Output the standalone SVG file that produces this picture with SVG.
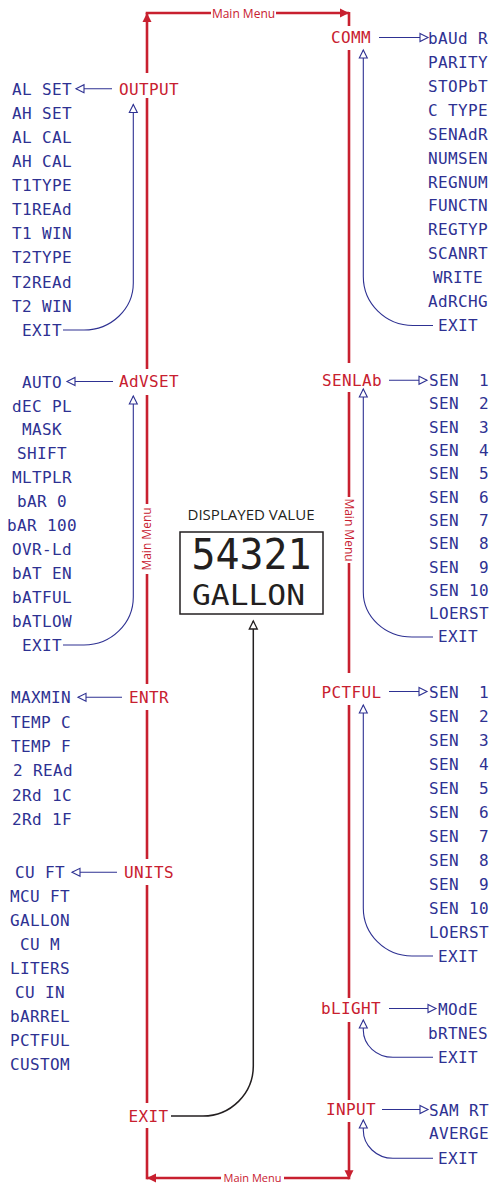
<svg xmlns="http://www.w3.org/2000/svg" width="492" height="1185" viewBox="0 0 492 1185">
<style>
.b{font-family:"DejaVu Sans Mono",monospace;font-size:16px;letter-spacing:0.4px;fill:#2e3192;text-anchor:middle}
.r{font-family:"DejaVu Sans Mono",monospace;font-size:16px;letter-spacing:0.4px;fill:#c8202f;text-anchor:middle}
.mm{font-family:"Open Sans","Liberation Sans",sans-serif;font-size:12px;fill:#c8202f;text-anchor:middle}
.red{stroke:#c8202f;stroke-width:2.6;fill:none}
.blue{stroke:#2e3192;stroke-width:1.1;fill:none}
.blk{stroke:#231f20;stroke-width:1.5;fill:none}
</style>
<defs>
<marker id="ra" markerUnits="userSpaceOnUse" markerWidth="10" markerHeight="9" refX="9" refY="4.5" orient="auto" overflow="visible"><path d="M0,0 L9,4.5 L0,9 z" fill="#c8202f"/></marker>
<marker id="ba" markerUnits="userSpaceOnUse" markerWidth="10" markerHeight="10" refX="8.5" refY="4.5" orient="auto" overflow="visible"><path d="M0.5,0.5 L8.5,4.5 L0.5,8.5 z" fill="#fff" stroke="#2e3192" stroke-width="1.1"/></marker>
<marker id="ka" markerUnits="userSpaceOnUse" markerWidth="10" markerHeight="10" refX="8.5" refY="4.5" orient="auto" overflow="visible"><path d="M0.5,0.5 L8.5,4.5 L0.5,8.5 z" fill="#fff" stroke="#231f20" stroke-width="1.3"/></marker>
</defs>
<g id="connectors">
<path class="red" d="M147,73 V13" marker-end="url(#ra)"/>
<path class="red" d="M147,98 V369"/>
<path class="red" d="M147,395 V504"/>
<path class="red" d="M147,574 V684"/>
<path class="red" d="M147,710 V859"/>
<path class="red" d="M147,885 V1103"/>
<path class="red" d="M147,1128 V1179.3"/>
<path class="red" d="M221,1178 H147" marker-end="url(#ra)"/>
<path class="red" d="M349,1178 H284"/>
<path class="red" d="M349,1122 V1179.3" marker-end="url(#ra)"/>
<path class="red" d="M349,1022 V1100"/>
<path class="red" d="M349,705 V998"/>
<path class="red" d="M349,563 V673"/>
<path class="red" d="M349,392 V497"/>
<path class="red" d="M349,50 V363"/>
<path class="red" d="M349,26 V12"/>
<path class="red" d="M145.7,13 H211"/>
<path class="red" d="M276,13 H349" marker-end="url(#ra)"/>
<path class="blue" d="M112,88.7 H76" marker-end="url(#ba)"/>
<path class="blue" d="M63,330 H84 A49.3,47 0 0 0 133.3,283 V104.5" marker-end="url(#ba)"/>
<path class="blue" d="M113,381.5 H67" marker-end="url(#ba)"/>
<path class="blue" d="M63,645 H84 A49.3,48 0 0 0 133.3,597 V396" marker-end="url(#ba)"/>
<path class="blue" d="M122,697.3 H78" marker-end="url(#ba)"/>
<path class="blue" d="M117,872.3 H72" marker-end="url(#ba)"/>
<path class="blue" d="M379,37.5 H428" marker-end="url(#ba)"/>
<path class="blue" d="M433,325.5 H413 A49.7,49 0 0 1 363.3,276.5 V50" marker-end="url(#ba)"/>
<path class="blue" d="M389,380.3 H427" marker-end="url(#ba)"/>
<path class="blue" d="M433,637 H412 A48.7,45 0 0 1 363.3,592 V389" marker-end="url(#ba)"/>
<path class="blue" d="M389,691.5 H427" marker-end="url(#ba)"/>
<path class="blue" d="M433,956 H412 A48.7,48 0 0 1 363.3,908 V705" marker-end="url(#ba)"/>
<path class="blue" d="M389,1008.5 H436" marker-end="url(#ba)"/>
<path class="blue" d="M433,1057.3 H393 A29.7,27.3 0 0 1 363.3,1030 V1020" marker-end="url(#ba)"/>
<path class="blue" d="M382,1109.5 H428" marker-end="url(#ba)"/>
<path class="blue" d="M433,1158.3 H393 A29.7,28.3 0 0 1 363.3,1130 V1120" marker-end="url(#ba)"/>
<path class="blk" d="M171,1116 H203 A50.3,50 0 0 0 253.3,1066 V621" marker-end="url(#ka)"/>
<text class="mm" x="243.5" y="17.5">Main Menu</text>
<text class="mm" x="252.5" y="1181.8" style="font-size:11px">Main Menu</text>
<text class="mm" transform="translate(147,539) rotate(-90)" x="0" y="4.2">Main Menu</text>
<text class="mm" transform="translate(349,530) rotate(90)" x="0" y="4.2">Main Menu</text>
</g>
<g id="display">
<text x="251" y="520.3" textLength="127" lengthAdjust="spacingAndGlyphs" style="font-family:'Open Sans','Liberation Sans',sans-serif;font-size:14.5px;fill:#231f20;text-anchor:middle">DISPLAYED VALUE</text>
<rect x="180" y="532" width="143" height="82" fill="none" stroke="#231f20" stroke-width="1.5"/>
<text x="251.5" y="569" textLength="120" lengthAdjust="spacingAndGlyphs" style="font-family:'DejaVu Sans Mono',monospace;font-size:42px;fill:#231f20;text-anchor:middle">54321</text>
<text x="248.5" y="605" textLength="113" lengthAdjust="spacingAndGlyphs" style="font-family:'DejaVu Sans Mono',monospace;font-size:28px;fill:#231f20;text-anchor:middle">GALLON</text>
</g>
<g id="output">
<text class="r" x="149" y="94.5">OUTPUT</text>
<text class="b" x="42" y="94.5">AL SET</text>
<text class="b" x="42" y="118.6">AH SET</text>
<text class="b" x="42" y="142.7">AL CAL</text>
<text class="b" x="42" y="166.8">AH CAL</text>
<text class="b" x="42" y="191">T1TYPE</text>
<text class="b" x="42" y="215.1">T1REAd</text>
<text class="b" x="42" y="239.2">T1 WIN</text>
<text class="b" x="42" y="263.3">T2TYPE</text>
<text class="b" x="42" y="287.5">T2REAd</text>
<text class="b" x="42" y="311.6">T2 WIN</text>
<text class="b" x="42" y="335.8">EXIT</text>
</g>
<g id="advset">
<text class="r" x="149" y="387.3">AdVSET</text>
<text class="b" x="42" y="387.5">AUTO</text>
<text class="b" x="42" y="411.5">dEC PL</text>
<text class="b" x="42" y="435.4">MASK</text>
<text class="b" x="42" y="459.4">SHIFT</text>
<text class="b" x="42" y="483.4">MLTPLR</text>
<text class="b" x="42" y="507.3">bAR 0</text>
<text class="b" x="42" y="531.3">bAR 100</text>
<text class="b" x="42" y="555.2">OVR-Ld</text>
<text class="b" x="42" y="579.2">bAT EN</text>
<text class="b" x="42" y="603.2">bATFUL</text>
<text class="b" x="42" y="627.1">bATLOW</text>
<text class="b" x="42" y="651.1">EXIT</text>
</g>
<g id="entr">
<text class="r" x="149" y="703.1">ENTR</text>
<text class="b" x="41" y="703.1">MAXMIN</text>
<text class="b" x="41" y="727.5">TEMP C</text>
<text class="b" x="41" y="751.5">TEMP F</text>
<text class="b" x="43" y="775.8">2 REAd</text>
<text class="b" x="42" y="800.8">2Rd 1C</text>
<text class="b" x="42" y="825.1">2Rd 1F</text>
</g>
<g id="units">
<text class="r" x="149" y="878.1">UNITS</text>
<text class="b" x="40" y="878.1">CU FT</text>
<text class="b" x="40" y="902.1">MCU FT</text>
<text class="b" x="40" y="926.1">GALLON</text>
<text class="b" x="40" y="950.1">CU M</text>
<text class="b" x="40" y="974.1">LITERS</text>
<text class="b" x="40" y="998.1">CU IN</text>
<text class="b" x="40" y="1022.1">bARREL</text>
<text class="b" x="40" y="1046.1">PCTFUL</text>
<text class="b" x="40" y="1070.1">CUSTOM</text>
</g>
<g id="exit-main">
<text class="r" x="148.5" y="1121.8">EXIT</text>
</g>
<g id="comm">
<text class="r" x="351" y="42.8">COMM</text>
<text class="b" x="458" y="43.8">bAUd R</text>
<text class="b" x="458" y="67.8">PARITY</text>
<text class="b" x="458" y="91.8">STOPbT</text>
<text class="b" x="458" y="115.8">C TYPE</text>
<text class="b" x="458" y="139.8">SENAdR</text>
<text class="b" x="458" y="163.8">NUMSEN</text>
<text class="b" x="458" y="187.8">REGNUM</text>
<text class="b" x="458" y="211.3">FUNCTN</text>
<text class="b" x="458" y="235.3">REGTYP</text>
<text class="b" x="458" y="258.8">SCANRT</text>
<text class="b" x="458" y="282.8">WRITE</text>
<text class="b" x="458" y="306.8">AdRCHG</text>
<text class="b" x="458" y="331.1">EXIT</text>
</g>
<g id="senlab">
<text class="r" x="352" y="386">SENLAb</text>
<text class="b" x="459" y="386.1" xml:space="preserve">SEN  1</text>
<text class="b" x="459" y="409.4" xml:space="preserve">SEN  2</text>
<text class="b" x="459" y="432.7" xml:space="preserve">SEN  3</text>
<text class="b" x="459" y="456" xml:space="preserve">SEN  4</text>
<text class="b" x="459" y="479.3" xml:space="preserve">SEN  5</text>
<text class="b" x="459" y="502.6" xml:space="preserve">SEN  6</text>
<text class="b" x="459" y="525.9" xml:space="preserve">SEN  7</text>
<text class="b" x="459" y="549.2" xml:space="preserve">SEN  8</text>
<text class="b" x="459" y="572.5" xml:space="preserve">SEN  9</text>
<text class="b" x="459" y="595.8">SEN 10</text>
<text class="b" x="459" y="619.1">LOERST</text>
<text class="b" x="458" y="642.4">EXIT</text>
</g>
<g id="pctful">
<text class="r" x="351.5" y="697.5">PCTFUL</text>
<text class="b" x="459" y="697.5" xml:space="preserve">SEN  1</text>
<text class="b" x="459" y="721.5" xml:space="preserve">SEN  2</text>
<text class="b" x="459" y="745.5" xml:space="preserve">SEN  3</text>
<text class="b" x="459" y="769.5" xml:space="preserve">SEN  4</text>
<text class="b" x="459" y="793.5" xml:space="preserve">SEN  5</text>
<text class="b" x="459" y="817.5" xml:space="preserve">SEN  6</text>
<text class="b" x="459" y="841.5" xml:space="preserve">SEN  7</text>
<text class="b" x="459" y="865.5" xml:space="preserve">SEN  8</text>
<text class="b" x="459" y="889.5" xml:space="preserve">SEN  9</text>
<text class="b" x="459" y="913.5">SEN 10</text>
<text class="b" x="459" y="937.5">LOERST</text>
<text class="b" x="458" y="961.5">EXIT</text>
</g>
<g id="blight">
<text class="r" x="351" y="1014.3">bLIGHT</text>
<text class="b" x="458" y="1014.8">MOdE</text>
<text class="b" x="458" y="1039.1">bRTNES</text>
<text class="b" x="458" y="1063.1">EXIT</text>
</g>
<g id="input">
<text class="r" x="351" y="1115.3">INPUT</text>
<text class="b" x="459" y="1115.8">SAM RT</text>
<text class="b" x="459" y="1139.3">AVERGE</text>
<text class="b" x="458" y="1164.1">EXIT</text>
</g>
</svg>
